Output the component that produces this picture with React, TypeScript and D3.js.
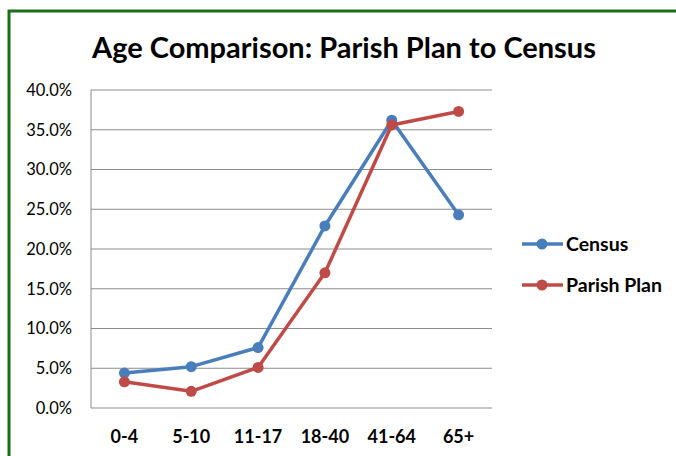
import React from 'react';
import * as d3 from 'd3';

const ageGroups = ['0-4', '5-10', '11-17', '18-40', '41-64', '65+'];
const census = [4.4, 5.2, 7.6, 22.9, 36.2, 24.3];
const parishPlan = [3.3, 2.1, 5.1, 17.0, 35.6, 37.3];
const yTicks = [0, 5, 10, 15, 20, 25, 30, 35, 40];

const seriesList = [
  { name: 'Census', values: census, color: '#4a7ebb' },
  { name: 'Parish Plan', values: parishPlan, color: '#be4b48' },
];

const W = 676;
const H = 456;
const margin = { top: 90, right: 184, bottom: 48, left: 91 };

export default function App() {
  const x = d3.scaleBand<string>()
    .domain(ageGroups)
    .range([margin.left, W - margin.right]);

  const y = d3.scaleLinear()
    .domain([0, 40])
    .range([H - margin.bottom, margin.top]);

  const cx = (i: number) => x(ageGroups[i])! + x.bandwidth() / 2;

  const line = d3.line<number>()
    .x((_, i) => cx(i))
    .y(d => y(d));

  const font = 'Lato, "Open Sans", sans-serif';

  return (
    <svg width={W} height={H} style={{ position: 'absolute', left: 0, top: 0 }}>
      <rect x={0} y={0} width={W} height={H} fill="#fff" />
      {/* outer green frame, runs off the right/bottom edges */}
      <rect x={9} y={11} width={W + 20} height={H + 20} fill="none" stroke="#1b6f1b" strokeWidth={3} />

      <text x={344} y={58} textAnchor="middle" fontFamily={font} fontWeight="bold" fontSize={29} fill="#000">
        Age Comparison: Parish Plan to Census
      </text>

      {/* gridlines */}
      {yTicks.map(t => (
        <line key={t} x1={margin.left} x2={W - margin.right} y1={y(t)} y2={y(t)} stroke="#8c8c8c" strokeWidth={1} />
      ))}
      <line x1={margin.left} x2={margin.left} y1={y(40)} y2={y(0)} stroke="#8c8c8c" strokeWidth={1} />

      {/* y tick labels */}
      {yTicks.map(t => (
        <text key={t} x={72} y={y(t)} dy="0.35em" textAnchor="end" fontFamily={font} fontSize={16.5} fill="#000">
          {t.toFixed(1) + '%'}
        </text>
      ))}

      {/* x tick labels */}
      {ageGroups.map(g => (
        <text key={g} x={x(g)! + x.bandwidth() / 2} y={443} textAnchor="middle" fontFamily={font} fontWeight="bold" fontSize={18} fill="#000">
          {g}
        </text>
      ))}

      {/* series */}
      {seriesList.map(s => (
        <g key={s.name}>
          <path d={line(s.values) || ''} fill="none" stroke={s.color} strokeWidth={3.5} strokeLinejoin="round" />
          {s.values.map((v, i) => (
            <circle key={i} cx={cx(i)} cy={y(v)} r={5.5} fill={s.color} />
          ))}
        </g>
      ))}

      {/* legend */}
      {seriesList.map((s, i) => {
        const ly = 244 + i * 41;
        return (
          <g key={s.name}>
            <line x1={522} x2={563} y1={ly} y2={ly} stroke={s.color} strokeWidth={3.5} />
            <circle cx={542} cy={ly} r={5.5} fill={s.color} />
            <text x={566} y={ly} dy="0.36em" fontFamily={font} fontWeight="bold" fontSize={19.5} fill="#000">
              {s.name}
            </text>
          </g>
        );
      })}
    </svg>
  );
}
